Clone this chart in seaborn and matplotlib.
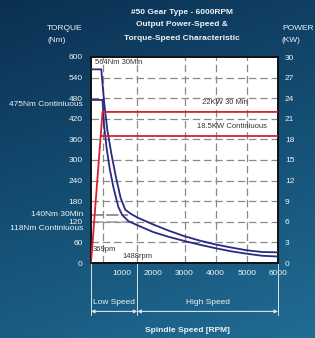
import numpy as np
import matplotlib.pyplot as plt
import seaborn as sns

# torque curves (rpm, Nm)
rpm_30min = [0, 330, 420, 520, 650, 800, 950, 1100, 1300, 1500, 2000, 2500, 3000, 3500, 4000, 4500, 5000, 5500, 6000]
torque_30min = [564, 564, 470, 390, 320, 250, 190, 155, 142, 132, 112, 94, 78, 65, 54, 45, 37, 32, 31]
rpm_cont = [0, 370, 420, 500, 600, 720, 875, 1000, 1200, 1488, 2000, 2500, 3000, 3500, 4000, 4500, 5000, 5500, 6000]
torque_cont = [475, 475, 400, 335, 275, 220, 164, 140, 122, 110, 90, 76, 64, 53, 43, 34, 27, 21, 19]

# power lines (rpm, kW)
rpm_power_30min = [0, 369, 6000]
power_30min = [0, 22, 22]
rpm_power_cont = [310, 6000]
power_cont = [18.5, 18.5]

torque_ticks = list(range(0, 601, 60))
power_ticks = list(range(0, 31, 3))
speed_ticks = [1000, 2000, 3000, 4000, 5000, 6000]
grid_rpm = [369, 1488, 3000, 4000, 5000]

sns.set_theme(style="white")
plt.rcParams['font.family'] = ['Liberation Sans', 'DejaVu Sans']

W, H = 315, 338
fig = plt.figure(figsize=(W / 100, H / 100), dpi=100)

# gradient background
bg = fig.add_axes([0, 0, 1, 1], zorder=-5)
yy, xx = np.mgrid[0:1:200j, 0:1:200j]
t = 0.75 * yy + 0.25 * xx
top = np.array([10, 48, 82]) / 255
bot = np.array([32, 108, 148]) / 255
img = top[None, None, :] * (1 - t[..., None]) + bot[None, None, :] * t[..., None]
bg.imshow(img, aspect='auto', extent=[0, 1, 0, 1])
bg.axis('off')

def px(x, y):
    return x / W, 1 - y / H

l, r, tp, bt = 91, 278, 57, 263
ax = fig.add_axes([l / W, 1 - bt / H, (r - l) / W, (bt - tp) / H])
ax.set_facecolor('white')
ax2 = ax.twinx()

navy = '#2b2a7e'
red = '#d8202e'
grid_c = '#8a8a8a'
txt = '#eef3f6'

# grid
for v in torque_ticks[1:-1]:
    ax.axhline(v, color=grid_c, lw=0.9, ls=(0, (6, 3)), zorder=1)
for v in grid_rpm:
    ax.axvline(v, color=grid_c, lw=0.9, ls=(0, (6, 3)), zorder=1)
ax.plot([0, 1200], [140, 140], color='#777777', lw=1.1, ls=(0, (8, 2)), zorder=1)
ax.plot([0, 1488], [118, 118], color='#999999', lw=1.1, ls=(0, (8, 2)), zorder=1)

sns.lineplot(x=rpm_30min, y=torque_30min, ax=ax, color=navy, lw=1.3, sort=False, zorder=3)
sns.lineplot(x=rpm_cont, y=torque_cont, ax=ax, color=navy, lw=1.3, sort=False, zorder=3)
sns.lineplot(x=rpm_power_30min, y=power_30min, ax=ax2, color=red, lw=1.3, sort=False)
sns.lineplot(x=rpm_power_cont, y=power_cont, ax=ax2, color=red, lw=1.3, sort=False)

ax.set_xlim(0, 6000)
ax.set_ylim(0, 600)
ax2.set_ylim(0, 30)
ax.set_xticks(speed_ticks)
ax.set_yticks(torque_ticks)
ax2.set_yticks(power_ticks)
ax.tick_params(axis='x', length=0, pad=5, labelsize=6, labelcolor=txt)
ax.tick_params(axis='y', length=0, pad=6, labelsize=6, labelcolor=txt)
ax2.tick_params(axis='y', length=0, pad=5, labelsize=6, labelcolor=txt)
ax.set_xlabel('')
ax.set_ylabel('')
ax2.set_ylabel('')
for sp in ax.spines.values():
    sp.set_color('#111111')
    sp.set_linewidth(1.4)
for sp in ax2.spines.values():
    sp.set_visible(False)

# in-plot labels
lab = dict(fontsize=5.5, color='#333333', va='center')
ax.text(120, 584, '564Nm 30Min', **lab)
ax.text(3560, 467, '22KW 30 Min', **lab)
ax.text(3400, 397, '18.5KW Continiuous', **lab)
ax.text(60, 38, '369pm', **lab)
ax.text(1020, 18, '1488rpm', **lab)

# speed ranges below the axis
tr = ax.get_xaxis_transform()
for v in [0, 1488, 6000]:
    ax.plot([v, v], [0, -0.25], transform=tr, color='#d8e4ec', lw=0.7, clip_on=False)
for a, b in [(0, 1488), (1488, 6000)]:
    ax.annotate('', xy=(a, -0.235), xytext=(b, -0.235), xycoords=tr, textcoords=tr,
                arrowprops=dict(arrowstyle='<|-|>', color='#d8e4ec', lw=0.8,
                                mutation_scale=5, shrinkA=0, shrinkB=0))
ax.text(744, -0.193, 'Low Speed', transform=tr, ha='center', va='center', fontsize=6, color=txt)
ax.text(3744, -0.193, 'High Speed', transform=tr, ha='center', va='center', fontsize=6, color=txt)

# figure texts
def ftext(x, y, s, **kw):
    fig.text(*px(x, y), s, color=txt, fontsize=6, va='center', **kw)

ftext(182, 13, '#50 Gear Type - 6000RPM', ha='center', fontweight='bold')
ftext(182, 25, 'Output Power-Speed &', ha='center', fontweight='bold')
ftext(182, 38, 'Torque-Speed Characteristic', ha='center', fontweight='bold')
ftext(47, 29, 'TORQUE', ha='left')
ftext(47, 40, '(Nm)', ha='left')
ftext(282, 29, 'POWER', ha='left')
ftext(282, 40, '(KW)', ha='left')
ftext(83, 105, '475Nm Continiuous', ha='right')
ftext(83, 214, '140Nm 30Min', ha='right')
ftext(83, 228, '118Nm Continiuous', ha='right')
ftext(187, 331, 'Spindle Speed [RPM]', ha='center', fontweight='bold')

fig.savefig('out.png', dpi=100)
